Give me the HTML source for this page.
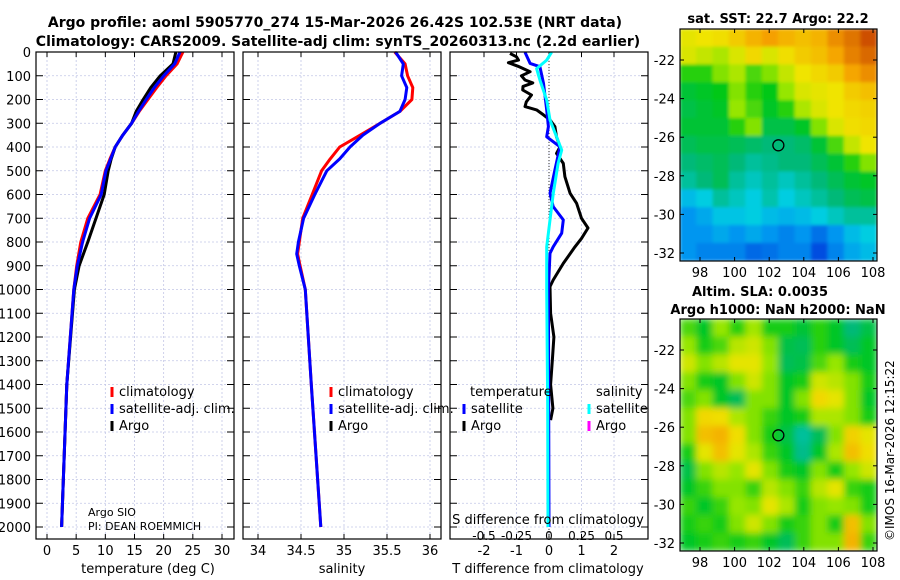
<!DOCTYPE html>
<html><head><meta charset="utf-8"><style>
html,body{margin:0;padding:0;background:#fff;}
svg{display:block;font-family:"DejaVu Sans","Liberation Sans",sans-serif;}
</style></head><body>
<svg id="fig" width="900" height="580" viewBox="0 0 900 580">
<text x="335" y="27" text-anchor="middle" font-size="14" font-weight="bold">Argo profile: aoml 5905770_274 15-Mar-2026 26.42S 102.53E (NRT data)</text>
<text x="338" y="46" text-anchor="middle" font-size="14" font-weight="bold">Climatology: CARS2009. Satellite-adj clim: synTS_20260313.nc (2.2d earlier)</text>
<text x="778" y="23" text-anchor="middle" font-size="13" font-weight="bold">sat. SST: 22.7 Argo: 22.2</text>
<text x="760" y="296" text-anchor="middle" font-size="13" font-weight="bold">Altim. SLA: 0.0035</text>
<text x="778" y="314" text-anchor="middle" font-size="13" font-weight="bold">Argo h1000: NaN h2000: NaN</text>
<text transform="translate(894,541) rotate(-90)" font-size="12">©IMOS 16-Mar-2026 12:15:22</text>
<defs><filter id="blur" x="0" y="0" width="1" height="1"><feGaussianBlur stdDeviation="3.5"/></filter>
<filter id="blur2" x="0" y="0" width="1" height="1"><feGaussianBlur stdDeviation="1.5"/></filter>
<clipPath id="c1"><rect x="680" y="29" width="197" height="232"/></clipPath>
<clipPath id="c2"><rect x="680" y="319" width="197" height="232"/></clipPath></defs>
<g id="layer"></g>
</svg>
<script>
// ---- data ----
const depthTicks=[0,100,200,300,400,500,600,700,800,900,1000,1100,1200,1300,1400,1500,1600,1700,1800,1900,2000];
const tempTicks=[0,5,10,15,20,25,30];
const salTicks=[34,34.5,35,35.5,36];
const tdiffTicks=[-2,-1,0,1,2];
const sdiffTicks=[-0.5,-0.25,0,0.25,0.5];
const sdiffLabels=["-0.5","-0.25","0","0.25","0.5"];
const tDepth=[0,50,100,150,200,250,300,350,400,450,500,600,700,800,900,1000,1400,2000];
const tClim=[23.3,22.3,20.4,18.8,17.3,15.8,14.5,13.0,11.7,10.8,10.0,9.1,7.0,5.8,5.1,4.6,3.4,2.5];
const tSat=[22.8,21.9,20.0,18.4,17.0,15.7,14.5,13.0,11.7,10.9,10.1,9.3,7.3,6.1,5.2,4.6,3.4,2.5];
const tArgo=[22.1,21.6,19.4,17.8,16.5,15.3,14.5,13.0,11.7,11.0,10.5,9.8,8.4,7.0,5.5,4.7,3.4,2.5];
const sDepth=[0,50,100,150,200,250,300,350,400,450,500,600,700,800,850,900,1000,1400,2000];
const sClim=[35.59,35.71,35.74,35.8,35.79,35.65,35.42,35.19,34.95,34.84,34.74,34.63,34.52,34.48,34.46,34.49,34.55,34.62,34.73];
const sSat=[35.6,35.69,35.67,35.73,35.71,35.65,35.42,35.22,35.07,34.95,34.8,34.66,34.53,34.47,34.45,34.48,34.55,34.62,34.73];
const argoTdDepth=[6,20,34,45,60,83,100,118,130,145,160,181,210,230,244,265,286,314,357,399,427,469,525,595,637,700,741,785,820,890,960,988,1100,1200,1300,1400,1500,1550];
const argoTd=[-1.2,-1.0,-0.94,-1.25,-0.95,-0.58,-0.85,-0.74,-0.5,-0.8,-0.81,-0.54,-0.7,-0.74,-0.38,-0.17,0.03,0.18,0.23,0.34,0.23,0.44,0.49,0.65,0.85,1.0,1.2,1.0,0.8,0.44,0.13,0.03,0.05,0.15,0.1,0.05,0.12,0.05];
const satTdDepth=[1,48,62,132,244,314,357,399,497,595,651,707,763,820,848,1000,1500,2000];
const satTd=[-0.74,-0.58,-0.28,-0.17,-0.07,-0.02,-0.07,0.34,0.18,0.03,0.13,0.44,0.39,0.13,0.03,-0.02,-0.01,0];
const satSdDepth=[1,34,70,118,202,286,413,469,595,707,820,1000,1500,2000];
const satSd=[0.02,-0.018,-0.095,-0.07,-0.018,0.008,0.098,0.07,0.033,0.008,-0.018,-0.018,-0.01,-0.008];
const lonTicks=[98,100,102,104,106,108];
const latTicks=[-22,-24,-26,-28,-30,-32];
const argoLon=102.53, argoLat=-26.42;
const sstGrid=[
[.63,.64,.65,.68,.72,.75,.72,.70,.72,.78,.82,.88],
[.62,.60,.58,.62,.66,.62,.65,.68,.70,.74,.80,.84],
[.50,.50,.55,.58,.52,.55,.60,.64,.66,.68,.74,.78],
[.46,.47,.48,.55,.50,.48,.56,.62,.63,.64,.68,.70],
[.45,.46,.47,.56,.52,.47,.50,.58,.62,.64,.66,.67],
[.46,.46,.46,.50,.55,.45,.45,.47,.55,.62,.65,.66],
[.44,.45,.45,.44,.43,.42,.42,.43,.46,.52,.60,.64],
[.42,.43,.44,.42,.40,.41,.42,.42,.44,.46,.50,.55],
[.40,.42,.44,.40,.38,.40,.38,.40,.42,.44,.46,.47],
[.34,.36,.40,.38,.36,.39,.36,.38,.40,.42,.44,.45],
[.30,.32,.35,.35,.36,.34,.33,.34,.36,.38,.40,.40],
[.30,.30,.32,.30,.32,.30,.28,.30,.26,.30,.34,.36],
[.30,.28,.28,.28,.25,.26,.28,.28,.22,.28,.32,.34]];
const slaGrid=[
[.52,.47,.56,.50,.57,.49,.49,.46,.50,.47,.42,.45],
[.56,.49,.52,.59,.61,.55,.45,.44,.50,.47,.44,.47],
[.61,.55,.59,.63,.63,.56,.44,.45,.52,.56,.49,.47],
[.55,.49,.47,.55,.61,.55,.47,.49,.61,.59,.55,.49],
[.52,.55,.47,.44,.55,.55,.47,.55,.66,.63,.55,.47],
[.55,.66,.65,.58,.55,.51,.47,.49,.58,.58,.55,.49],
[.55,.70,.72,.65,.55,.49,.45,.40,.44,.55,.67,.63],
[.49,.63,.70,.63,.58,.51,.47,.41,.47,.58,.70,.65],
[.45,.55,.59,.56,.63,.55,.49,.47,.55,.49,.56,.61],
[.47,.51,.55,.55,.51,.59,.55,.51,.59,.63,.51,.49],
[.51,.47,.51,.56,.55,.63,.58,.49,.55,.56,.55,.49],
[.49,.51,.49,.55,.61,.55,.49,.51,.55,.49,.70,.55],
[.47,.49,.51,.49,.51,.47,.44,.51,.55,.55,.72,.51]];

// ---- helpers ----
const NS="http://www.w3.org/2000/svg";
const L=document.getElementById('layer');
function mk(tag,at,parent){const e=document.createElementNS(NS,tag);for(const k in at)e.setAttribute(k,at[k]);(parent||L).appendChild(e);return e;}
const PT=52,PB=539;
const yD=d=>PT+d*0.2375;
const xT=v=>47+v*5.833;
const xS=v=>258+(v-34)*86;
const xTd=v=>549+v*32.5;
const xSd=v=>549+v*130;
const cmapStops=[[0.2,[0,60,220]],[0.3,[0,150,240]],[0.36,[0,205,225]],[0.42,[0,185,120]],[0.48,[0,200,20]],[0.56,[150,230,0]],[0.64,[240,228,0]],[0.75,[245,160,0]],[0.88,[205,80,0]]];
function cmap(v){
 if(v<=cmapStops[0][0])return 'rgb('+cmapStops[0][1].join(',')+')';
 for(let i=1;i<cmapStops.length;i++){if(v<=cmapStops[i][0]){const a=cmapStops[i-1],b=cmapStops[i];const t=(v-a[0])/(b[0]-a[0]);
  return 'rgb('+a[1].map((c,k)=>Math.round(c+(b[1][k]-c)*t)).join(',')+')';}}
 return 'rgb('+cmapStops[cmapStops.length-1][1].join(',')+')';}

function panel(x0,name){
 const g=mk('g',{});
 
 
 depthTicks.forEach(d=>{
  const l=mk('line',{x1:x0,x2:x0+198,y1:yD(d),y2:yD(d),stroke:'#c2c6e6','stroke-width':0.8,'stroke-dasharray':'2,2'},g);
  
  
  mk('line',{x1:x0,x2:x0+7,y1:yD(d),y2:yD(d),stroke:'#000'},g);
  mk('line',{x1:x0+191,x2:x0+198,y1:yD(d),y2:yD(d),stroke:'#000'},g);
 });
 return g;
}
function vgrid(g,x){const l=mk('line',{x1:x,x2:x,y1:PT,y2:PB,stroke:'#c2c6e6','stroke-width':0.8,'stroke-dasharray':'2,2'},g);
 
 
 mk('line',{x1:x,x2:x,y1:PT,y2:PT+5,stroke:'#000'},g);mk('line',{x1:x,x2:x,y1:PB-5,y2:PB,stroke:'#000'},g);}
function frame(g,x0){const r=mk('rect',{x:x0,y:PT,width:198,height:PB-PT,fill:'none',stroke:'#000','stroke-width':1.2},g);
 
 }
function line(g,xs,ds,fx,color,w,name){
 const pts=xs.map((v,i)=>fx(v).toFixed(1)+','+yD(ds[i]).toFixed(1)).join(' ');
 const p=mk('polyline',{points:pts,fill:'none',stroke:color,'stroke-width':w,'stroke-linejoin':'round'},g);
 
 }
function txt(g,x,y,s,at,name){const t=mk('text',Object.assign({x:x,y:y,'font-size':13},at||{}),g);t.textContent=s;
 
 return t;}
function legendItem(g,x,y,color,label,name){
 mk('line',{x1:x,x2:x,y1:y-9,y2:y+1,stroke:color,'stroke-width':3},g);
 txt(g,x+7,y,label,{'font-size':13},name);}

depthTicks.forEach(d=>txt(L,31,yD(d)+5,String(d),{'text-anchor':'end'},'depth-tick-label'));

const g1=panel(36,'temperature-panel');
tempTicks.forEach(t=>{vgrid(g1,xT(t));txt(g1,xT(t),555,String(t),{'text-anchor':'middle'},'temperature-tick-label');});
line(g1,tClim,tDepth,xT,'#f00',3,'temperature-climatology-line');
line(g1,tArgo,tDepth,xT,'#000',3,'temperature-argo-line');
line(g1,tSat,tDepth,xT,'#00f',3,'temperature-satellite-line');
frame(g1,36);
txt(g1,148,573,'temperature (deg C)',{'text-anchor':'middle'},'temperature-axis-title');
legendItem(g1,112,396,'#f00','climatology','legend-climatology');
legendItem(g1,112,413,'#00f','satellite-adj. clim.','legend-satellite-adj');
legendItem(g1,112,430,'#000','Argo','legend-argo');
txt(g1,88,516,'Argo SIO',{'font-size':11},'institution-label');
txt(g1,88,530,'PI: DEAN ROEMMICH',{'font-size':11},'pi-label');

const g2=panel(243,'salinity-panel');
salTicks.forEach(t=>{vgrid(g2,xS(t));txt(g2,xS(t),555,String(t),{'text-anchor':'middle'},'salinity-tick-label');});
line(g2,sClim,sDepth,xS,'#f00',3,'salinity-climatology-line');
line(g2,sSat,sDepth,xS,'#00f',3,'salinity-satellite-line');
frame(g2,243);
txt(g2,342,573,'salinity',{'text-anchor':'middle'},'salinity-axis-title');
legendItem(g2,331,396,'#f00','climatology','legend-climatology');
legendItem(g2,331,413,'#00f','satellite-adj. clim.','legend-satellite-adj');
legendItem(g2,331,430,'#000','Argo','legend-argo');

const g3=panel(450,'difference-panel');
tdiffTicks.forEach(t=>{vgrid(g3,xTd(t));txt(g3,xTd(t),555,String(t),{'text-anchor':'middle'},'tdiff-tick-label');});
mk('line',{x1:549,x2:549,y1:PT,y2:PB,stroke:'#333','stroke-width':1,'stroke-dasharray':'1,2'},g3);
line(g3,argoTd,argoTdDepth,xTd,'#000',3,'argo-tdiff-line');
line(g3,satTd,satTdDepth,xTd,'#00f',3,'satellite-tdiff-line');
line(g3,satSd,satSdDepth,xSd,'#0ff',3,'satellite-sdiff-line');
frame(g3,450);
txt(g3,548,573,'T difference from climatology',{'text-anchor':'middle'},'tdiff-axis-title');
txt(g3,548,524,'S difference from climatology',{'text-anchor':'middle'},'sdiff-axis-title');
sdiffTicks.forEach((t,i)=>txt(g3,xSd(t),540,sdiffLabels[i],{'text-anchor':'middle','font-size':12},'sdiff-tick-label'));
txt(g3,470,396,'temperature',{},'legend-temperature-header');
legendItem(g3,464,413,'#00f','satellite','legend-temp-satellite');
legendItem(g3,464,430,'#000','Argo','legend-temp-argo');
txt(g3,596,396,'salinity',{},'legend-salinity-header');
legendItem(g3,589,413,'#0ff','satellite','legend-sal-satellite');
legendItem(g3,589,430,'#f0f','Argo','legend-sal-argo');

function map(top,grid,name,filt,clip){
 const x0=680,w=197,h=232;
 const lonX=lo=>700+(lo-98)*17.3;
 const latY=la=>top+31+(-22-la)*19.3;
 const g=mk('g',{});
 
 
 const outer=mk('g',{'clip-path':'url(#'+clip+')'},g);
 const cells=mk('g',{filter:'url(#'+filt+')'},outer);
 const rows=grid.length,cols=grid[0].length,cw=w/cols,ch=h/rows;
 grid.forEach((row,r)=>row.forEach((v,c)=>{
  const e=mk('rect',{x:x0+c*cw-0.3,y:top+r*ch-0.3,width:cw+0.6,height:ch+0.6,fill:cmap(v)},cells);
  
  
 }));
 mk('rect',{x:x0,y:top,width:w,height:h,fill:'none',stroke:'#000','stroke-width':1.2},g);
 lonTicks.forEach(lo=>{const x=lonX(lo);mk('line',{x1:x,x2:x,y1:top,y2:top+4,stroke:'#000'},g);mk('line',{x1:x,x2:x,y1:top+h-4,y2:top+h,stroke:'#000'},g);
  txt(g,x,top+h+16,String(lo),{'text-anchor':'middle'},'longitude-tick-label');});
 latTicks.forEach(la=>{const y=latY(la);mk('line',{x1:x0,x2:x0+4,y1:y,y2:y,stroke:'#000'},g);mk('line',{x1:x0+w-4,x2:x0+w,y1:y,y2:y,stroke:'#000'},g);
  txt(g,675,y+5,String(la),{'text-anchor':'end'},'latitude-tick-label');});
 const c=mk('circle',{cx:lonX(argoLon),cy:latY(argoLat),r:5.5,fill:'none',stroke:'#000','stroke-width':1.3},g);
 
 
}
map(29,sstGrid,'sst-map','blur2','c1');
map(319,slaGrid,'sla-map','blur','c2');
</script>
</body></html>
